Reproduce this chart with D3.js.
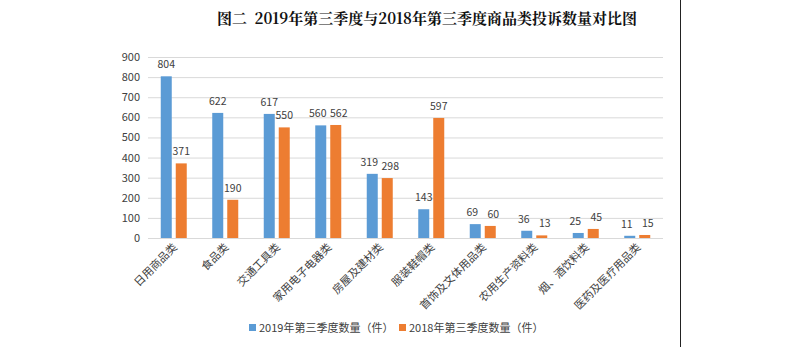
<!DOCTYPE html>
<html><head><meta charset="utf-8">
<script src="https://cdn.jsdelivr.net/npm/d3@7"></script>
<style>body{margin:0;background:#fff}svg{display:block}</style>
</head><body>
<svg id="c" width="790" height="347"></svg>
<script>
const categories = ["日用商品类","食品类","交通工具类","家用电子电器类","房屋及建材类","服装鞋帽类","首饰及文体用品类","农用生产资料类","烟、酒饮料类","医药及医疗用品类"];
const series2019 = [804,622,617,560,319,143,69,36,25,11];
const series2018 = [371,190,550,562,298,597,60,13,45,15];
const seriesNames = ["2019年第三季度数量（件）","2018年第三季度数量（件）"];
const yTicks = [0,100,200,300,400,500,600,700,800,900];
const titleText = "图二\u00a0\u00a02019年第三季度与2018年第三季度商品类投诉数量对比图";
const colors = ["#5B9BD5","#ED7D31"];

const svg = d3.select("#c");
const font = "'Noto Sans CJK SC','Microsoft YaHei',sans-serif";
const m = {l:148, r:663, t:57, b:238};
const x = d3.scaleBand().domain(categories).range([m.l, m.r]);
const y = d3.scaleLinear().domain([0,900]).range([m.b, m.t]);

svg.append("text").attr("x",427).attr("y",24).attr("text-anchor","middle")
  .attr("font-family","'Noto Serif CJK SC','Noto Sans CJK SC',serif").attr("font-weight","bold")
  .attr("font-size",15).attr("fill","#111").text(titleText);

// grid
svg.append("g").selectAll("line").data(yTicks).join("line")
  .attr("x1",m.l).attr("x2",m.r).attr("y1",d=>y(d)+0.5).attr("y2",d=>y(d)+0.5)
  .attr("stroke","#d9d9d9").attr("stroke-width",1);

// y axis labels
const ya = svg.append("g").attr("transform",`translate(${m.l-8},0)`)
  .call(d3.axisLeft(y).tickValues(yTicks).tickSize(0).tickPadding(0));
ya.select(".domain").remove();
ya.selectAll("text").attr("font-family",font).attr("font-size",11).attr("fill","#404040");

const bw = 11, gap = 4;
const sub = d3.scaleOrdinal().domain([0,1]).range([-(bw+gap/2), gap/2]);
const data = categories.map((c,i)=>({c, v:[series2019[i], series2018[i]]}));

const g = svg.append("g");
[0,1].forEach(s=>{
  g.selectAll(".b"+s).data(data).join("rect")
    .attr("x",d=>x(d.c)+x.bandwidth()/2+sub(s))
    .attr("y",d=>y(d.v[s])).attr("width",bw)
    .attr("height",d=>y(0)-y(d.v[s])).attr("fill",colors[s]);
  g.selectAll(".l"+s).data(data).join("text")
    .attr("x",d=>{
      const close = Math.abs(y(d.v[0])-y(d.v[1])) < 12;
      const shift = close ? (s===0?-3:3) : 0;
      return x(d.c)+x.bandwidth()/2+sub(s)+bw/2+shift;
    })
    .attr("y",d=>y(d.v[s])-8).attr("text-anchor","middle")
    .attr("font-family",font).attr("font-size",10.5).attr("fill","#404040")
    .text(d=>d.v[s]);
});

// x labels
const xa = svg.append("g").attr("transform",`translate(0,${m.b})`)
  .call(d3.axisBottom(x).tickSize(0).tickPadding(0));
xa.select(".domain").remove();
xa.selectAll("text").attr("font-family",font).attr("font-size",11).attr("fill","#404040")
  .attr("text-anchor","end").attr("dy",0)
  .attr("transform","translate(4,10) rotate(-45)");

// legend
const lg = svg.append("g");
const lx = [249, 399];
seriesNames.forEach((n,i)=>{
  lg.append("rect").attr("x",lx[i]).attr("y",324).attr("width",7).attr("height",7).attr("fill",colors[i]);
  lg.append("text").attr("x",lx[i]+10).attr("y",332).attr("font-family",font).attr("font-size",11)
    .attr("fill","#404040").text(n);
});

// right border line
svg.append("line").attr("x1",680.5).attr("x2",680.5).attr("y1",0).attr("y2",347).attr("stroke","#222").attr("stroke-width",1);
</script>
</body></html>
